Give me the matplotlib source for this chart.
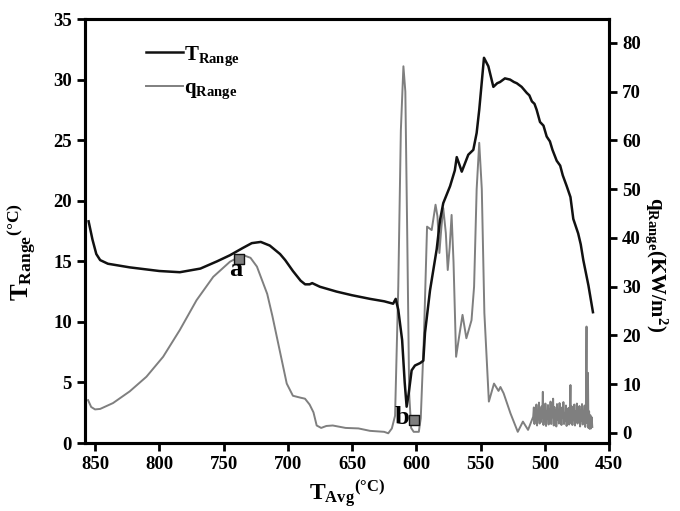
import matplotlib
matplotlib.use('Agg')
import matplotlib.pyplot as plt

plt.rcParams['font.family'] = ['Liberation Serif', 'DejaVu Serif']
plt.rcParams['font.weight'] = 'bold'
plt.rcParams['mathtext.fontset'] = 'custom'
plt.rcParams['mathtext.rm'] = 'Liberation Serif'
plt.rcParams['mathtext.bf'] = 'Liberation Serif:bold'
plt.rcParams['mathtext.it'] = 'Liberation Serif:italic'

# T_Range curve (black, left axis)
t_avg_T = [855.0, 852, 849, 846, 840, 823, 800, 784, 768, 755, 745, 735, 728,
           721, 714, 706, 702, 696, 690, 686.5, 683, 681, 675, 662, 650, 636,
           625, 618, 616, 614, 611, 609, 607.5, 606, 603.6, 601, 597, 594.5,
           593.2, 589.3, 584.1, 581.5, 579, 573.7, 570, 568.5, 566.5, 564.6,
           559.5, 555.6, 553, 551, 549.1, 547.3, 543.9, 540, 537, 534.8, 531,
           527, 524, 521.8, 518, 514, 512, 510, 508, 506.3, 503.7, 501, 498.5,
           496, 494, 490.7, 488, 486, 482.9, 480, 477.8, 474, 472, 470, 466,
           462.5]
T_range = [18.3, 16.8, 15.6, 15.1, 14.8, 14.5, 14.2, 14.1, 14.4, 15.0, 15.5,
           16.1, 16.5, 16.6, 16.3, 15.6, 15.1, 14.2, 13.4, 13.1, 13.1, 13.2,
           12.9, 12.5, 12.2, 11.9, 11.7, 11.5, 11.9, 11.0, 8.5, 5.0, 3.0, 4.0,
           6.0, 6.4, 6.6, 6.8, 9.1, 12.6, 16.0, 18.4, 19.8, 21.2, 22.5, 23.6,
           23.0, 22.4, 23.8, 24.2, 25.6, 27.5, 29.7, 31.8, 31.1, 29.4, 29.7,
           29.8, 30.1, 30.0, 29.8, 29.7, 29.4, 28.9, 28.7, 28.2, 28.0, 27.5,
           26.5, 26.2, 25.3, 24.9, 24.2, 23.3, 22.9, 22.1, 21.2, 20.3, 18.5,
           17.3, 16.4, 15.1, 13.0, 10.8]

# q_Range curve (gray, right axis)
t_avg_q = [855.4, 853, 850, 846, 836, 823, 810, 797, 784, 771, 758, 745, 735,
           729, 724, 716, 712, 708, 704, 700.8, 696, 690, 686.6, 683, 680,
           677.5, 674, 670, 665, 655, 645, 636, 625, 621.8, 619, 616.5, 614,
           612, 610, 608.5, 607, 605.5, 604, 602, 598, 596.5, 594, 591.6, 588,
           585, 583.5, 582, 580.5, 579, 577, 575.5, 574, 572.5, 571, 569,
           566.5, 564, 561, 557, 555, 553, 551, 549, 547, 543.5, 539.5, 536,
           534.5, 532, 526.7, 521, 517, 513,
           509.0, 508.5, 508.0, 507.5, 507.0, 506.5, 506.0, 505.5, 505.0,
           504.5, 504.0, 503.5, 503.0, 502.5, 502.0, 501.5, 501.0, 500.5,
           500.0, 499.5, 499.0, 498.5, 498.0, 497.5, 497.0, 496.5, 496.0,
           495.5, 495.0, 494.5, 494.0, 493.5, 493.0, 492.5, 492.0, 491.5,
           491.0, 490.5, 490.0, 489.5, 489.0, 488.5, 488.0, 487.5, 487.0,
           486.5, 486.0, 485.5, 485.0, 484.5, 484.0, 483.5, 483.0, 482.5,
           482.0, 481.5, 481.0, 480.5, 480.0, 479.5, 479.0, 478.5, 478.0,
           477.5, 477.0, 476.5, 476.0, 475.5, 475.0, 474.5, 474.0, 473.5,
           473.0, 472.5, 472.0, 471.5, 471.0, 470.5, 470.0, 469.5, 469.0,
           468.5, 468.0, 467.5, 467.2, 466.8, 466.4, 466.0, 465.5, 465.0,
           464.5, 464.0, 463.5, 463.0]
q_range = [6.7, 5.3, 4.8, 4.9, 6.1, 8.5, 11.5, 15.6, 21.1, 27.2, 32.0, 35.1,
           36.5, 35.9, 34.1, 28.5, 24.0, 19.0, 14.0, 10.1, 7.6, 7.2, 7.0, 5.8,
           4.2, 1.5, 1.0, 1.4, 1.5, 1.0, 0.9, 0.4, 0.2, -0.1, 0.9, 3.5, 30.0,
           62.0, 75.2, 70.0, 40.0, 8.0, 1.0, 0.2, 0.2, 3.0, 20.0, 42.3, 41.6,
           46.8, 44.4, 36.9, 42.0, 46.1, 41.0, 33.4, 38.0, 44.7, 35.0, 15.6,
           20.0, 24.2, 19.4, 23.1, 30.0, 50.0, 59.5, 50.0, 24.6, 6.4, 10.1,
           8.6, 9.4, 8.1, 4.0, 0.2, 2.3, 0.6,
           3.3, 5.2, 1.8, 4.6, 2.4, 5.8, 1.5, 4.2, 2.8, 6.2, 1.9, 4.8, 2.2,
           5.4, 3.0, 8.4, 1.6, 5.0, 2.6, 6.0, 1.4, 4.4, 2.9, 5.7, 1.7, 4.9,
           2.3, 6.4, 1.8, 4.1, 3.2, 7.0, 1.5, 5.3, 2.1, 4.7, 1.3, 5.9, 2.7,
           4.3, 1.9, 6.1, 2.4, 4.6, 1.6, 5.2, 3.1, 6.3, 1.8, 4.0, 2.5, 5.6,
           1.4, 4.8, 2.2, 5.1, 1.7, 4.5, 9.8, 2.0, 5.4, 1.6, 4.9, 2.6, 5.8,
           1.5, 4.4, 2.3, 6.0, 1.9, 4.2, 2.8, 5.5, 1.3, 4.7, 2.4, 5.9, 1.7,
           4.3, 2.1, 5.6, 1.2, 4.1, 21.8, 2.0, 6.0, 12.3, 1.0, 4.4, 0.8, 3.6,
           0.9, 3.2, 1.2]

# marked points a, b (on T_Range axis)
point_x = [737.7, 601.8]
point_T = [15.2, 1.9]
point_labels = ['a', 'b']
label_x = [740.3, 611.1]
label_T = [14.3, 2.1]

x_ticks = [850, 800, 750, 700, 650, 600, 550, 500, 450]
T_ticks = [0, 5, 10, 15, 20, 25, 30, 35]
q_ticks = [0, 10, 20, 30, 40, 50, 60, 70, 80]

black = '#111111'
gray = '#7f7f7f'

fig = plt.figure(figsize=(6.8, 5.11), dpi=100)
ax = fig.add_axes([0.125, 0.133, 0.7706, 0.8298])
ax2 = ax.twinx()

lT, = ax.plot(t_avg_T, T_range, color=black, lw=1.8, zorder=3)
lq, = ax2.plot(t_avg_q, q_range, color=gray, lw=1.4, zorder=2)

ax.set_zorder(ax2.get_zorder() + 1)
ax.patch.set_visible(False)

ax.scatter(point_x, point_T, marker='s', s=45, facecolor=gray,
           edgecolor=black, linewidths=1.0, zorder=5)
for lx, ly, txt in zip(label_x, label_T, point_labels):
    ax.text(lx, ly, txt, fontsize=19, fontweight='bold',
            ha='center', va='center', zorder=6)

ax.set_xlim(857.8, 450)
ax.set_ylim(0, 35)
ax2.set_ylim(-2.1, 84.9)
ax.set_xticks(x_ticks)
ax.set_yticks(T_ticks)
ax2.set_yticks(q_ticks)

for a in (ax, ax2):
    for s in a.spines.values():
        s.set_linewidth(2.2)
    a.tick_params(direction='out', length=6, width=2, labelsize=13.5)
for lab in ax.get_xticklabels() + ax.get_yticklabels() + ax2.get_yticklabels():
    lab.set_fontweight('bold')

ax.set_xlabel(r'$\mathrm{T}_{\mathbf{Avg}}{}^{\mathbf{(°C)}}$', fontsize=17)
ax.xaxis.set_label_coords(0.5, -0.085)
ax.set_ylabel(r'$\mathbf{T}_{\mathbf{Range}}{}^{\mathbf{(°C)}}$', fontsize=18)
ax.yaxis.set_label_coords(-0.088, 0.45)
ax2.set_ylabel(r'$\mathbf{q}_{\mathbf{Range}}\mathbf{(KW/m^{2})}$', fontsize=15,
               rotation=270)
ax2.yaxis.set_label_coords(1.115, 0.42)

ax.legend([lT, lq], [r'T$_{\mathbf{Range}}$', r'q$_{\mathbf{Range}}$'],
          loc='upper left', bbox_to_anchor=(0.08, 0.985), frameon=False,
          handlelength=1.8, handletextpad=0.05, fontsize=15, labelspacing=0.5)

fig.savefig('out.png', dpi=100)
